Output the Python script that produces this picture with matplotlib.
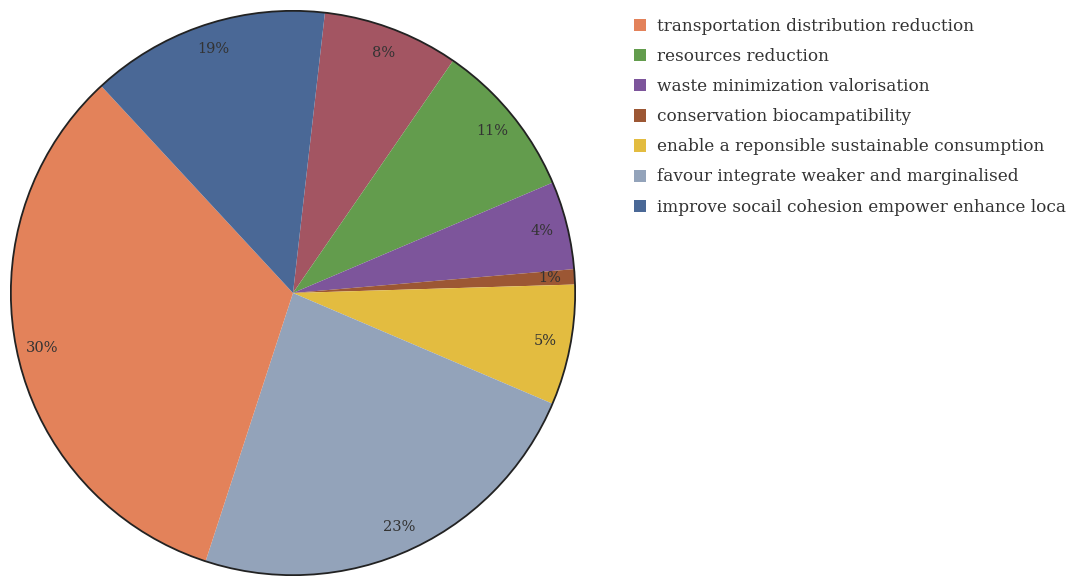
import numpy as np
import matplotlib.pyplot as plt
from matplotlib.patches import Patch, Circle

# slice shares as drawn (clockwise from the top), and the printed labels
slices = ["other", "resources reduction", "waste minimization valorisation",
          "conservation biocampatibility", "enable a reponsible sustainable consumption",
          "favour integrate weaker and marginalised", "transportation distribution reduction",
          "improve socail cohesion empower enhance loca"]
shares = [7.8, 9.0, 5.05, 0.87, 6.9, 23.6, 33.1, 13.7]
pct_labels = ["8%", "11%", "4%", "1%", "5%", "23%", "30%", "19%"]
colors = ["#A35562", "#639C4D", "#7D559B", "#9C5734", "#E3BC40", "#93A3BA", "#E3825A", "#4A6896"]

legend_names = ["transportation distribution reduction", "resources reduction",
                "waste minimization valorisation", "conservation biocampatibility",
                "enable a reponsible sustainable consumption",
                "favour integrate weaker and marginalised",
                "improve socail cohesion empower enhance loca"]
legend_colors = ["#E3825A", "#639C4D", "#7D559B", "#9C5734", "#E3BC40", "#93A3BA", "#4A6896"]

plt.rcParams['font.family'] = ['DejaVu Serif']

fig = plt.figure(figsize=(10.77, 5.77), dpi=100)
ax = fig.add_axes([10 / 1077, 1 / 577, 566 / 1077, 566 / 577])

wedges, _ = ax.pie(shares, colors=colors, startangle=83.5, counterclock=False,
                   radius=1, wedgeprops=dict(linewidth=0))
for w, lab in zip(wedges, pct_labels):
    ang = np.deg2rad((w.theta1 + w.theta2) / 2)
    ax.text(0.91 * np.cos(ang), 0.91 * np.sin(ang), lab, ha='center', va='center',
            fontsize=10.5, color='#333333')
ax.add_patch(Circle((0, 0), 1, fill=False, edgecolor='#222222', linewidth=1.3))
ax.set_xlim(-1.003, 1.003)
ax.set_ylim(-1.003, 1.003)
ax.set_aspect('equal')
ax.axis('off')

handles = [Patch(facecolor=c, edgecolor='none') for c in legend_colors]
fig.legend(handles, legend_names, loc='upper left', bbox_to_anchor=(619 / 1077, 1 - 3 / 577),
           frameon=False, fontsize=12.2, handlelength=0.72, handleheight=0.72,
           handletextpad=0.6, labelspacing=0.77, labelcolor='#333333')

fig.savefig('out.png', dpi=100)
